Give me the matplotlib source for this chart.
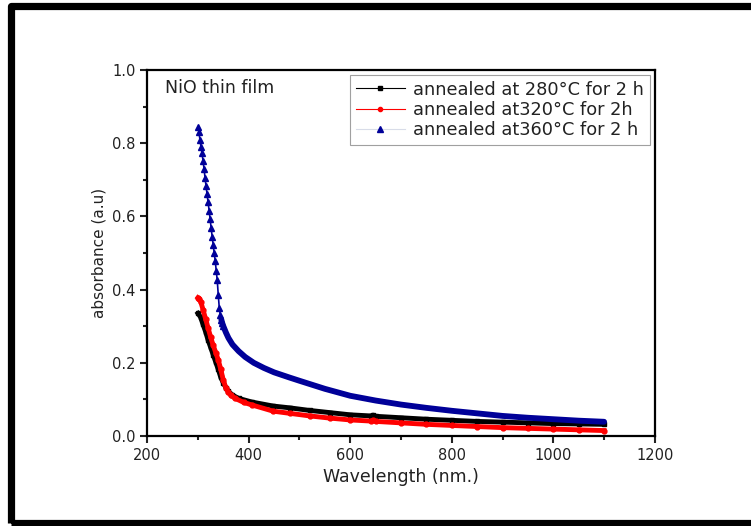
import numpy as np
import matplotlib
matplotlib.use("Agg")
import matplotlib.pyplot as plt
from matplotlib.lines import Line2D
from matplotlib.patches import Rectangle

# absorbance spectra of NiO films
wl_280 = [300, 305, 310, 315, 320, 325, 330, 335, 340, 345, 350, 355, 360, 368,
          380, 406, 448, 481, 520, 560, 600, 640, 645, 650, 700, 750, 800, 850,
          900, 950, 1000, 1050, 1100]
abs_280 = [0.335, 0.325, 0.305, 0.285, 0.262, 0.242, 0.222, 0.202, 0.182, 0.160,
           0.145, 0.132, 0.122, 0.112, 0.103, 0.093, 0.082, 0.077, 0.070, 0.064,
           0.058, 0.055, 0.057, 0.054, 0.050, 0.046, 0.043, 0.040, 0.038, 0.036,
           0.034, 0.033, 0.032]

wl_320 = [300, 303, 306, 310, 315, 320, 325, 330, 335, 340, 345, 350, 355, 360,
          365, 373, 390, 406, 448, 481, 520, 560, 600, 640, 645, 650, 700, 750,
          800, 850, 900, 950, 1000, 1050, 1100]
abs_320 = [0.378, 0.375, 0.365, 0.345, 0.320, 0.295, 0.270, 0.248, 0.228, 0.208,
           0.182, 0.152, 0.132, 0.119, 0.111, 0.103, 0.092, 0.085, 0.068, 0.062,
           0.055, 0.049, 0.044, 0.041, 0.043, 0.040, 0.036, 0.032, 0.029, 0.026,
           0.023, 0.021, 0.019, 0.017, 0.015]

wl_360 = [300, 302, 304, 306, 308, 310, 312, 314, 316, 318, 320, 322, 324, 326,
          328, 330, 332, 334, 336, 338, 340, 342, 344, 346, 348, 350, 355, 360,
          368, 380, 393, 410, 430, 450, 480, 500, 550, 600, 650, 700, 750, 800,
          850, 900, 950, 1000, 1050, 1100]
abs_360 = [0.845, 0.830, 0.808, 0.790, 0.772, 0.752, 0.730, 0.705, 0.682, 0.660,
           0.638, 0.616, 0.592, 0.568, 0.545, 0.522, 0.500, 0.478, 0.452, 0.425,
           0.385, 0.350, 0.330, 0.318, 0.308, 0.300, 0.283, 0.268, 0.250, 0.232,
           0.216, 0.200, 0.186, 0.174, 0.160, 0.151, 0.129, 0.110, 0.097, 0.086,
           0.077, 0.069, 0.062, 0.055, 0.050, 0.046, 0.042, 0.039]

labels = ["annealed at 280°C for 2 h",
          "annealed at320°C for 2h",
          "annealed at360°C for 2 h"]

plt.rcParams["font.family"] = ["DejaVu Sans"]

fig = plt.figure(figsize=(7.51, 5.26), dpi=100)
ax = fig.add_axes([0.196, 0.171, 0.676, 0.696])

ax.plot(wl_280, abs_280, color="black", lw=3.5, marker="s", ms=3.5)
ax.plot(wl_320, abs_320, color="#ff0000", lw=3.5, marker="o", ms=3.5)
# steep part of the 360 curve shows single triangles, the tail is a thick band
knee = wl_360.index(346)
ax.plot(wl_360, abs_360, color="#000099", lw=1.2, marker="^", ms=4.8,
        markevery=slice(0, knee + 3))
ax.plot(wl_360[knee:], abs_360[knee:], color="#000099", lw=4.2,
        solid_capstyle="round")

ax.set_xlim(200, 1200)
ax.set_ylim(0, 1.0)
ax.set_xticks(np.arange(200, 1201, 200))
ax.set_xticks(np.arange(300, 1200, 200), minor=True)
ax.set_yticks(np.arange(0, 1.01, 0.2))
ax.set_yticks(np.arange(0.1, 1.0, 0.2), minor=True)
ax.yaxis.set_major_formatter(plt.FormatStrFormatter("%.1f"))
ax.tick_params(which="both", direction="out", width=1.5, labelsize=10.5,
               colors="#222222", top=False, right=False)
ax.tick_params(which="major", length=5)
ax.tick_params(which="minor", length=3)
for s in ax.spines.values():
    s.set_linewidth(1.6)

ax.set_xlabel("Wavelength (nm.)", fontsize=12.5, color="#222222", labelpad=4)
ax.set_ylabel("absorbance (a.u)", fontsize=11, color="#222222", labelpad=4)
ax.text(0.035, 0.975, "NiO thin film", transform=ax.transAxes, fontsize=12.5,
        color="#222222", va="top", ha="left")

handles = [
    Line2D([], [], color="black", lw=0.8, marker="s", ms=3),
    Line2D([], [], color="#ff0000", lw=0.8, marker="o", ms=3),
    Line2D([], [], color="#d8dce8", lw=0.8, marker="^", ms=4,
           mfc="#000099", mec="#000099"),
]
leg = ax.legend(handles, labels, loc="upper right", fontsize=12.8,
                frameon=True, fancybox=False, edgecolor="#888888",
                handlelength=2.8, handletextpad=0.45, labelspacing=0.13,
                borderpad=0.3, borderaxespad=0.3)
leg.get_frame().set_linewidth(0.8)
for t in leg.get_texts():
    t.set_color("#222222")

# thick black frame around the picture
fig.patches.append(Rectangle((0.0153, 0.0057), 1.1, 0.982, transform=fig.transFigure,
                             fill=False, lw=5.2, ec="black", joinstyle="round"))

fig.savefig("out.png", dpi=100)
